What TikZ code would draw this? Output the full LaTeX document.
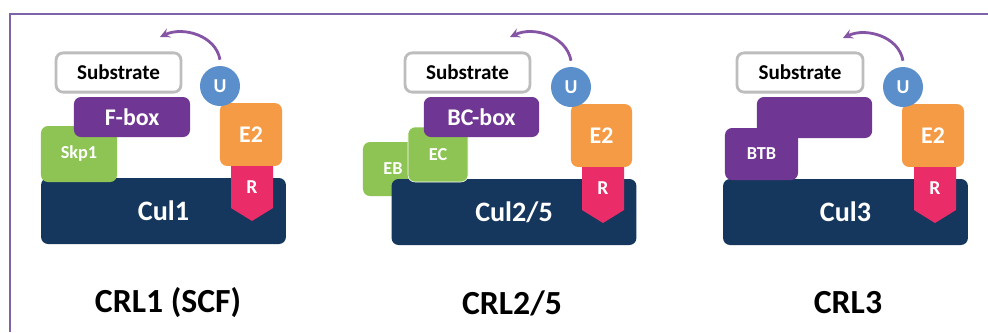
\documentclass[tikz,border=0pt]{standalone}
\usepackage{fontspec}
\setmainfont{Carlito}
\usepackage{xcolor}
\usepackage{tikz}
\usetikzlibrary{arrows,positioning,calc}

\definecolor{framepurple}{HTML}{7F63A8}
\definecolor{subgray}{HTML}{BDBDBD}
\definecolor{ublue}{HTML}{5A8FCB}
\definecolor{e2orange}{HTML}{F59A45}
\definecolor{rpink}{HTML}{EA2C68}
\definecolor{culnavy}{HTML}{16375D}
\definecolor{adpurple}{HTML}{6F3694}
\definecolor{adgreen}{HTML}{8DC453}

\begin{document}
\begin{tikzpicture}[
    x=0.025cm, y=0.025cm,
    box/.style={rectangle, rounded corners=5pt, inner sep=0pt, text=white, font=\bfseries\fontsize{17}{20}\selectfont},
    subbox/.style={box, draw=subgray, line width=2pt, fill=white, text=black, minimum width=3.12cm, minimum height=0.98cm, font=\bfseries\fontsize{15}{18}\selectfont},
    ubox/.style={circle, fill=ublue, text=white, inner sep=0pt, minimum size=1cm, font=\bfseries\fontsize{14}{16}\selectfont},
    e2box/.style={box, fill=e2orange, minimum width=1.55cm, minimum height=1.57cm},
    culbox/.style={box, fill=culnavy, minimum width=6.12cm, minimum height=1.65cm, font=\bfseries\fontsize{20}{24}\selectfont},
    adbox/.style={box, fill=adpurple, minimum width=2.88cm, minimum height=1.0cm},
    smallbox/.style={box, font=\bfseries\fontsize{13}{15}\selectfont},
    rlabel/.style={text=white, inner sep=0pt, font=\bfseries\fontsize{14}{16}\selectfont},
    crl/.style={font=\bfseries\fontsize{24}{28}\selectfont},
    arrow/.style={->, >=stealth, line width=2pt, draw=adpurple!85}
]
\useasboundingbox (0,0) rectangle (988,-332);
\draw[framepurple, line width=1.4pt] (10,-332) -- (10,-14) -- (988,-14);

% CRL1 (SCF)
\node[culbox] (cul1) at (163.5,-211) {Cul1};
\fill[rpink] (231,-163) -- (273,-163) -- (273,-208) -- (252,-221) -- (231,-208) -- cycle;
\node[rlabel] (r1) at (252,-187) {R};
\node[e2box] (e21) at (251,-134.5) {E2};
\node[ubox] (u1) at (220,-86) {U};
\node[smallbox, fill=adgreen, minimum width=1.9cm, minimum height=1.4cm] (skp1) at (79,-154) {Skp1};
\node[adbox, minimum width=2.9cm] (fbox1) at (132,-117) {F-box};
\node[subbox] (sub1) at (118.5,-72.5) {Substrate};
\coordinate (tip1) at (160,-37);
\draw[arrow] (u1.north) ++(0,6) to[out=100, in=25] (tip1);
\node[crl] (crl1) at (168,-303) {CRL1 (SCF)};

% CRL2/5
\node[smallbox, fill=adgreen, minimum width=1.5cm, minimum height=1.35cm] (eb2) at (393,-169) {EB};
\node[culbox] (cul2) at (514,-212) {Cul2/5};
\node[smallbox, fill=adgreen, draw=white, line width=0.4pt, minimum width=1.5cm, minimum height=1.375cm] (ec2) at (438,-154.5) {EC};
\fill[rpink] (582,-164) -- (624,-164) -- (624,-210) -- (603,-223) -- (582,-210) -- cycle;
\node[rlabel] (r2) at (603,-188) {R};
\node[e2box, minimum width=1.525cm] (e22) at (601.5,-135.5) {E2};
\node[ubox] (u2) at (571,-87) {U};
\node[adbox] (bcbox2) at (481.5,-117) {BC-box};
\node[subbox] (sub2) at (467.5,-72.5) {Substrate};
\coordinate (tip2) at (510,-37);
\draw[arrow] (u2.north) ++(0,6) to[out=100, in=25] (tip2);
\node[crl] (crl2) at (512,-303) {CRL2/5};

% CRL3
\node[culbox] (cul3) at (845.5,-212) {Cul3};
\fill[rpink] (914,-164) -- (956,-164) -- (956,-210) -- (935,-223) -- (914,-210) -- cycle;
\node[rlabel] (r3) at (935,-188) {R};
\node[e2box] (e23) at (933,-135.5) {E2};
\node[ubox] (u3) at (903,-87) {U};
\node[smallbox, fill=adpurple, minimum width=1.825cm, minimum height=1.3cm] (btb3) at (761.5,-154) {BTB};
\node[adbox, minimum height=1.025cm] (btbtop3) at (814.5,-117.5) {};
\node[subbox, minimum width=3.15cm] (sub3) at (800,-72.5) {Substrate};
\coordinate (tip3) at (843,-38);
\draw[arrow] (u3.north) ++(0,6) to[out=100, in=25] (tip3);
\node[crl] (crl3) at (848,-303) {CRL3};
\end{tikzpicture}
\end{document}
